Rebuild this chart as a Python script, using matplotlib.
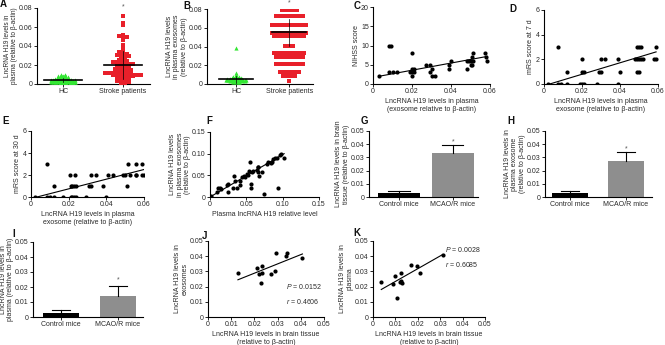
import numpy as np
import matplotlib
matplotlib.use('Agg')
import matplotlib.pyplot as plt

plt.rcParams['font.family'] = ['Liberation Sans', 'DejaVu Sans']
plt.rcParams['mathtext.fontset'] = 'custom'
plt.rcParams['mathtext.it'] = 'Liberation Sans:italic'
plt.rcParams['mathtext.rm'] = 'Liberation Sans'

# ---------------- DATA ----------------
# Panel A: plasma H19
hc_a = [0.010, 0.0095, 0.009, 0.009, 0.0085, 0.008, 0.008, 0.0078, 0.0075, 0.0072, 0.007, 0.007,
        0.0068, 0.0065, 0.0062, 0.006, 0.006, 0.0058, 0.0056, 0.0055, 0.0053, 0.0052, 0.005, 0.005,
        0.0048, 0.0047, 0.0046, 0.0045, 0.0044, 0.0043, 0.0042, 0.0041, 0.004, 0.004, 0.0039, 0.0038,
        0.0037, 0.0036, 0.0035, 0.0034, 0.0033, 0.0032, 0.0031, 0.003, 0.003, 0.0029, 0.0028, 0.0027,
        0.0026, 0.0025, 0.0024, 0.0023, 0.0022, 0.0021, 0.002, 0.002, 0.0019, 0.0018, 0.0017, 0.0016,
        0.0015, 0.0014, 0.0013, 0.0012, 0.0011, 0.001]
stroke_a = [0.072, 0.064, 0.062, 0.052, 0.051, 0.050, 0.050, 0.049, 0.046, 0.041, 0.040, 0.037,
            0.036, 0.034, 0.033, 0.032, 0.031, 0.031, 0.030, 0.030, 0.029, 0.028, 0.027, 0.026, 0.025,
            0.024, 0.024, 0.023, 0.023, 0.022, 0.022, 0.021, 0.021, 0.020, 0.020, 0.019, 0.019, 0.018,
            0.018, 0.017, 0.017, 0.016, 0.016, 0.015, 0.015, 0.015, 0.014, 0.014, 0.013, 0.013, 0.013,
            0.012, 0.012, 0.012, 0.011, 0.011, 0.011, 0.010, 0.010, 0.010, 0.010, 0.009, 0.009, 0.009,
            0.008, 0.008, 0.008, 0.007, 0.007, 0.006, 0.006, 0.005, 0.005, 0.004, 0.004, 0.003, 0.003,
            0.002, 0.002, 0.001, 0.001]
mean_a = [0.004, 0.020]
sd_a = [0.002, 0.015]
star_a = 0.081

# Panel B: plasma exosome H19
hc_b = [0.038, 0.012, 0.010, 0.009, 0.0085, 0.008, 0.008, 0.0075, 0.007, 0.007, 0.0068, 0.0065,
        0.0062, 0.006, 0.006, 0.0058, 0.0056, 0.0055, 0.0054, 0.0053, 0.0052, 0.005, 0.005, 0.0049,
        0.0048, 0.0047, 0.0046, 0.0045, 0.0044, 0.0043, 0.0042, 0.0041, 0.004, 0.004, 0.0039, 0.0038,
        0.0037, 0.0036, 0.0035, 0.0034, 0.0033, 0.0032, 0.003, 0.0028, 0.0026, 0.0024, 0.0022, 0.002]
stroke_b = ([0.079] * 5 + [0.073] * 8 + [0.063] * 10 + [0.054] * 10 + [0.051] * 9 + [0.041] * 3 +
            [0.033] * 9 + [0.029] * 8 + [0.021] * 8 + [0.013] * 6 + [0.0085] * 4 + [0.003])
mean_b = [0.005, 0.055]
sd_b = [0.004, 0.014]
star_b = 0.086

# Panel C: NIHSS vs exosome H19
c_x = [0.003, 0.008, 0.008, 0.009, 0.010, 0.0125, 0.020, 0.020, 0.021, 0.019, 0.020, 0.021, 0.020,
       0.0274, 0.029, 0.029, 0.030, 0.030, 0.032, 0.039, 0.040, 0.039, 0.048, 0.049, 0.050, 0.048,
       0.050, 0.0506, 0.0514, 0.051, 0.0514, 0.0574, 0.058, 0.0587]
c_y = [2, 3, 10, 10, 3, 3, 8, 4, 4, 3, 3, 3, 2, 5, 5, 3, 4, 2, 2, 5, 6, 4, 6, 6, 6, 4, 5, 5, 8, 7, 6,
       8, 7, 6]
c_fit = [93.0, 1.72]          # slope, intercept of the drawn regression line

# Panel D: mRS at 7 d
d_x = [0.002, 0.0074, 0.009, 0.012, 0.019, 0.020, 0.021, 0.028, 0.039,
       0.012, 0.020, 0.021, 0.029, 0.030, 0.040, 0.049, 0.050,
       0.0198, 0.030, 0.032, 0.039, 0.048, 0.049, 0.050, 0.051, 0.052, 0.058, 0.059,
       0.0074, 0.049, 0.050, 0.051, 0.059]
d_y = [0] * 9 + [1] * 8 + [2] * 11 + [3] * 5
d_fit = [46.5, -0.14]

# Panel E: mRS at 30 d
e_x = [0.0023, 0.0085, 0.0099, 0.012, 0.017, 0.021, 0.022, 0.023, 0.024, 0.029, 0.040,
       0.012, 0.021, 0.022, 0.023, 0.024, 0.031, 0.032, 0.038, 0.0508,
       0.0205, 0.0235, 0.032, 0.0346, 0.041, 0.0437, 0.049, 0.050, 0.0526, 0.0557, 0.056, 0.059, 0.060,
       0.0085, 0.0517, 0.056, 0.0587]
e_y = [0] * 11 + [1] * 9 + [2] * 13 + [3] * 4
e_fit = [44.0, -0.14]

# Panel F: exosome vs plasma H19
f_x = [0.0014, 0.0101, 0.0115, 0.0138, 0.0151, 0.0229, 0.0252, 0.0243, 0.0321, 0.0344, 0.0335,
       0.0367, 0.0413, 0.0413, 0.0445, 0.0472, 0.0482, 0.0505, 0.0528, 0.0537, 0.0550, 0.0564,
       0.0564, 0.0583, 0.0596, 0.0642, 0.0656, 0.0665, 0.0665, 0.0674, 0.0711, 0.0743, 0.0780,
       0.0803, 0.0839, 0.0858, 0.0872, 0.0894, 0.0917, 0.0940, 0.0963, 0.0977, 0.1020]
f_y = [0.002, 0.012, 0.020, 0.020, 0.019, 0.028, 0.031, 0.012, 0.020, 0.038, 0.048,
       0.020, 0.027, 0.036, 0.047, 0.049, 0.047, 0.053, 0.050, 0.060, 0.080, 0.020,
       0.030, 0.058, 0.060, 0.063, 0.070, 0.070, 0.057, 0.049, 0.057, 0.006, 0.077,
       0.080, 0.078, 0.080, 0.088, 0.091, 0.091, 0.020, 0.097, 0.099, 0.090]
f_fit = [0.98, 0.0]

# Panels G, H, I: mice bars
mice = ['Control mice', 'MCAO/R mice']
g_mean = [0.003, 0.033]
g_err = [0.0015, 0.0065]
h_mean = [0.003, 0.027]
h_err = [0.0015, 0.007]
i_mean = [0.003, 0.014]
i_err = [0.0015, 0.007]

# Panel J: exosomes vs brain tissue
j_x = [0.0129, 0.0213, 0.022, 0.0233, 0.0233, 0.023, 0.027, 0.029, 0.0292, 0.0338, 0.0342, 0.0407]
j_y = [0.0291, 0.0320, 0.0285, 0.0333, 0.0291, 0.0224, 0.0285, 0.0304, 0.0420, 0.0400, 0.0422, 0.0391]
j_fit = [0.611, 0.0166]
j_stats = ['$P$ = 0.0152', '$r$ = 0.4606']

# Panel K: plasma vs brain tissue
k_x = [0.0037, 0.0088, 0.0096, 0.0107, 0.0119, 0.0126, 0.0126, 0.0129, 0.0171, 0.0196, 0.0208, 0.0312]
k_y = [0.0228, 0.0215, 0.0272, 0.0128, 0.0233, 0.0291, 0.0239, 0.0222, 0.0341, 0.0337, 0.0291, 0.0411]
k_fit = [0.839, 0.0150]
k_stats = ['$P$ = 0.0028', '$r$ = 0.6085']

# ---------------- LAYOUT ----------------
W, H = 665, 345
fig = plt.figure(figsize=(W / 100, H / 100), dpi=100)
TXT = '#2a2a2a'
FS = 5.0
GREEN = '#33e633'
RED = '#e8202a'
GRAY = '#8e8e8e'


def add_ax(l, t, r, b):
    return fig.add_axes([l / W, 1 - b / H, (r - l) / W, (b - t) / H])


def style(ax):
    for s in ['top', 'right']:
        ax.spines[s].set_visible(False)
    for s in ['left', 'bottom']:
        ax.spines[s].set_linewidth(0.8)
    ax.tick_params(labelsize=FS, length=2, width=0.6, pad=1, labelcolor=TXT)
    ax.patch.set_alpha(0)


def fmt(v):
    return '0' if v == 0 else ('%g' % v if v >= 1 else '%.2f' % v)


def set_yt(ax, ticks):
    ax.set_yticks(ticks)
    ax.set_yticklabels([fmt(t) for t in ticks])
    ax.set_ylim(ticks[0], ticks[-1])


def set_xt(ax, ticks):
    ax.set_xticks(ticks)
    ax.set_xticklabels([fmt(t) for t in ticks])
    ax.set_xlim(ticks[0], ticks[-1])


def letter(x, y, s):
    fig.text(x / W, 1 - y / H, s, fontsize=7, fontweight='bold', va='top', ha='left', color='#111111')


def swarm(vals, center, bin_h, dx):
    vals = np.asarray(vals)
    xs = np.zeros(len(vals))
    bins = np.round(vals / bin_h).astype(int)
    for b in np.unique(bins):
        idx = np.where(bins == b)[0]
        n = len(idx)
        xs[idx] = center + (np.arange(n) - (n - 1) / 2) * dx
    return xs


def ylab(ax, s, pad=1, fs=FS):
    ax.set_ylabel(s, fontsize=fs, color=TXT, labelpad=pad, linespacing=1.05)


def xlab(ax, s, pad=2):
    ax.set_xlabel(s, fontsize=FS, color=TXT, labelpad=pad, linespacing=1.2)


def dotplot(ax, hc, st, mean, sd, star, xl, hbin, hdx, sbin, sdx):
    style(ax)
    ax.scatter(swarm(hc, 0, hbin, hdx), hc, marker='^', s=9, color=GREEN, lw=0, zorder=3)
    ax.scatter(swarm(st, 1, sbin, sdx), st, marker='s', s=5, color=RED, lw=0, zorder=3)
    for i in range(2):
        ax.plot([i - 0.32, i + 0.32], [mean[i]] * 2, color='black', lw=1.2, zorder=4)
        ax.plot([i, i], [mean[i] - sd[i], mean[i] + sd[i]], color='black', lw=0.5, zorder=4)
    ax.text(1, star, '*', fontsize=5, ha='center', va='center', color='#555555')
    ax.set_xlim(*xl)
    ax.set_xticks([0, 1])
    ax.set_xticklabels(['HC', 'Stroke patients'])
    set_yt(ax, [0, 0.02, 0.04, 0.06, 0.08])


def scatter_fit(ax, x, y, fit):
    style(ax)
    ax.scatter(x, y, s=9, color='black', lw=0, zorder=3)
    xx = np.array([min(x), max(x)])
    ax.plot(xx, fit[0] * xx + fit[1], color='black', lw=0.8)


def bars(ax, means, errs, xl, width, star_y):
    style(ax)
    cols = ['black', GRAY]
    for i in range(2):
        ax.bar(i, means[i], width=width, color=cols[i], zorder=2)
        top = means[i] + errs[i]
        ax.plot([i, i], [means[i], top], color='black', lw=0.8, zorder=3)
        ax.plot([i - width / 4, i + width / 4], [top, top], color='black', lw=0.8, zorder=3)
    ax.text(1, star_y, '*', fontsize=5, ha='center', va='center', color='#555555')
    ax.set_xlim(*xl)
    ax.set_xticks([0, 1])
    ax.set_xticklabels(mice)
    set_yt(ax, [0, 0.01, 0.02, 0.03, 0.04, 0.05])


# A
axA = add_ax(37, 8, 150, 84)
dotplot(axA, hc_a, stroke_a, mean_a, sd_a, star_a, (-0.434, 1.453), 0.0007, 0.055, 0.0022, 0.066)
ylab(axA, 'LncRNA H19 levels in\nplasma (relative to β-actin)', pad=0.5, fs=4.7)
letter(0, -1, 'A')

# B
axB = add_ax(207, 9, 313, 84)
dotplot(axB, hc_b, stroke_b, mean_b, sd_b, star_b, (-0.55, 1.45), 0.0007, 0.055, 0.002, 0.072)
ylab(axB, 'LncRNA H19 levels\nin plasma exosomes\n(relative to β-actin)')
letter(183, 1, 'B')

# C
axC = add_ax(373, 7, 490, 84)
scatter_fit(axC, c_x, c_y, c_fit)
set_xt(axC, [0, 0.02, 0.04, 0.06])
set_yt(axC, [0, 5, 10, 15, 20])
ylab(axC, 'NIHSS score')
xlab(axC, 'LncRNA H19 levels in plasma\n(exosome relative to β-actin)')
letter(354, 1, 'C')

# D
axD = add_ax(544, 10, 658, 84)
scatter_fit(axD, d_x, d_y, d_fit)
set_xt(axD, [0, 0.02, 0.04, 0.06])
set_yt(axD, [0, 2, 4, 6])
ylab(axD, 'mRS score at 7 d')
xlab(axD, 'LncRNA H19 levels in plasma\nexosome (relative to β-actin)')
letter(509, 4, 'D')

# E
axE = add_ax(31, 131, 144, 197)
scatter_fit(axE, e_x, e_y, e_fit)
set_xt(axE, [0, 0.02, 0.04, 0.06])
set_yt(axE, [0, 2, 4, 6])
ylab(axE, 'mRS score at 30 d')
xlab(axE, 'LncRNA H19 levels in plasma\nexosome (relative to β-actin)')
letter(2, 116, 'E')

# F
axF = add_ax(210, 132, 319, 197)
scatter_fit(axF, f_x, f_y, f_fit)
set_xt(axF, [0, 0.05, 0.10, 0.15])
set_yt(axF, [0, 0.05, 0.10, 0.15])
ylab(axF, 'LncRNA H19 levels\nin plasma exosomes\n(relative to β-actin)')
xlab(axF, 'Plasma lncRNA H19 relative level')
letter(206, 116, 'F')

# G
axG = add_ax(369, 131, 478, 197)
bars(axG, g_mean, g_err, (-0.556, 1.465), 0.78, 0.042)
ylab(axG, 'LncRNA H19 levels in brain\ntissue (relative to β-actin)')
letter(361, 116, 'G')

# H
axH = add_ax(545, 131, 652, 197)
bars(axH, h_mean, h_err, (-0.447, 1.465), 0.66, 0.0365)
ylab(axH, 'LncRNA H19 levels in\nplasma exosome\n(relative to β-actin)')
letter(507, 116, 'H')

# I
axI = add_ax(33, 242, 143, 317)
bars(axI, i_mean, i_err, (-0.487, 1.443), 0.64, 0.0245)
ylab(axI, 'LncRNA H19 levels in\nplasma (relative to β-actin)', pad=0.5)
letter(12, 229, 'I')

# J
axJ = add_ax(208, 241, 324, 317)
scatter_fit(axJ, j_x, j_y, j_fit)
set_xt(axJ, [0, 0.01, 0.02, 0.03, 0.04, 0.05])
set_yt(axJ, [0, 0.01, 0.02, 0.03, 0.04, 0.05])
axJ.text(0.0335, 0.020, j_stats[0], fontsize=FS, color=TXT, va='center')
axJ.text(0.0335, 0.0105, j_stats[1], fontsize=FS, color=TXT, va='center')
ylab(axJ, 'LncRNA H19 levels in\nexosomes')
xlab(axJ, 'LncRNA H19 levels in brain tissue\n(relative to β-actin)')
letter(202, 231, 'J')

# K
axK = add_ax(373, 241, 485, 317)
scatter_fit(axK, k_x, k_y, k_fit)
set_xt(axK, [0, 0.01, 0.02, 0.03, 0.04, 0.05])
set_yt(axK, [0, 0.01, 0.02, 0.03, 0.04, 0.05])
axK.text(0.032, 0.0445, k_stats[0], fontsize=FS, color=TXT, va='center')
axK.text(0.032, 0.0345, k_stats[1], fontsize=FS, color=TXT, va='center')
ylab(axK, 'LncRNA H19 levels in\nplasma')
xlab(axK, 'LncRNA H19 levels in brain tissue\n(relative to β-actin)')
letter(353, 228, 'K')

fig.savefig('out.png', dpi=100)
